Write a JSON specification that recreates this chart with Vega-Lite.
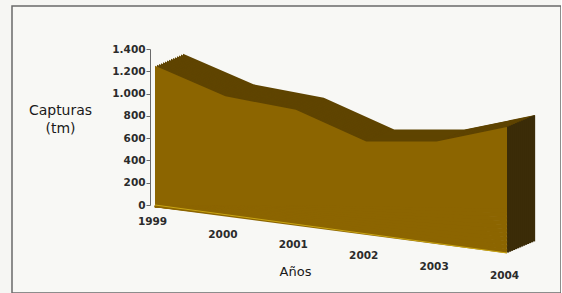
{
  "$schema": "https://vega.github.io/schema/vega-lite/v6.json",
  "width": 549,
  "height": 287,
  "padding": {"left": 12, "top": 6, "right": 0, "bottom": 0},
  "background": "#f6f6f3",
  "config": {
    "locale": {"number": {"decimal": ",", "thousands": ".", "grouping": [3], "currency": ["", " €"]}},
    "view": {"stroke": "#6a6a6a", "strokeWidth": 1.5, "fill": "#f8f8f5"},
    "font": "DejaVu Sans"
  },
  "data": {
    "values": [
      {"year": 1999, "capturas": 1250},
      {"year": 2000, "capturas": 975},
      {"year": 2001, "capturas": 855},
      {"year": 2002, "capturas": 570},
      {"year": 2003, "capturas": 570},
      {"year": 2004, "capturas": 700}
    ]
  },
  "encoding": {
    "x": {
      "field": "year",
      "type": "quantitative",
      "scale": {"domain": [1999, 2004], "range": [143, 495], "nice": false, "zero": false},
      "axis": {
        "orient": "bottom",
        "offset": -88,
        "values": [1999, 2000, 2001, 2002, 2003, 2004],
        "format": "d",
        "domain": false,
        "ticks": false,
        "grid": false,
        "labelOverlap": false,
        "labelFlush": false,
        "labelPadding": {
          "condition": [
            {"test": "datum.value == 1999", "value": 11},
            {"test": "datum.value == 2000", "value": 24},
            {"test": "datum.value == 2001", "value": 34},
            {"test": "datum.value == 2002", "value": 45},
            {"test": "datum.value == 2003", "value": 56}
          ],
          "value": 65
        },
        "labelOffset": -3,
        "labelFontSize": 10.5,
        "labelFontWeight": "bold",
        "labelColor": "#2b2b2b",
        "labelBaseline": "top",
        "title": "Años",
        "titleX": 283,
        "titleY": 66,
        "titleAlign": "center",
        "titleBaseline": "middle",
        "titleFontSize": 13,
        "titleFontWeight": "normal",
        "titleColor": "#1a1a1a"
      }
    },
    "y": {
      "field": "capturas",
      "type": "quantitative",
      "scale": {"domain": [0, 1400], "range": [199, 43], "nice": false, "zero": true},
      "axis": {
        "orient": "left",
        "offset": -138,
        "values": [0, 200, 400, 600, 800, 1000, 1200, 1400],
        "format": ",.0f",
        "grid": false,
        "domainColor": "#6a6a6a",
        "tickColor": "#6a6a6a",
        "tickSize": 4,
        "labelFontSize": 10.5,
        "labelFontWeight": "bold",
        "labelColor": "#2b2b2b",
        "labelPadding": 1,
        "title": ["Capturas", "(tm)"],
        "titleAngle": 0,
        "titleX": -90,
        "titleY": 97,
        "titleAlign": "center",
        "titleBaseline": "top",
        "titleFontSize": 14,
        "titleFontWeight": "normal",
        "titleColor": "#1a1a1a",
        "titleLineHeight": 18
      }
    }
  },
  "layer": [
    {"mark": {"type": "area", "color": "#5f4400", "xOffset": 28, "yOffset": -12, "y2Offset": -12}},
    {"mark": {"type": "area", "color": "#5f4400", "xOffset": 26, "yOffset": -11.14, "y2Offset": -11.14}},
    {"mark": {"type": "area", "color": "#5f4400", "xOffset": 24, "yOffset": -10.29, "y2Offset": -10.29}},
    {"mark": {"type": "area", "color": "#5f4400", "xOffset": 22, "yOffset": -9.43, "y2Offset": -9.43}},
    {"mark": {"type": "area", "color": "#5f4400", "xOffset": 20, "yOffset": -8.57, "y2Offset": -8.57}},
    {"mark": {"type": "area", "color": "#5f4400", "xOffset": 18, "yOffset": -7.71, "y2Offset": -7.71}},
    {"mark": {"type": "area", "color": "#5f4400", "xOffset": 16, "yOffset": -6.86, "y2Offset": -6.86}},
    {"mark": {"type": "area", "color": "#5f4400", "xOffset": 14, "yOffset": -6, "y2Offset": -6}},
    {"mark": {"type": "area", "color": "#5f4400", "xOffset": 12, "yOffset": -5.14, "y2Offset": -5.14}},
    {"mark": {"type": "area", "color": "#5f4400", "xOffset": 10, "yOffset": -4.29, "y2Offset": -4.29}},
    {"mark": {"type": "area", "color": "#5f4400", "xOffset": 8, "yOffset": -3.43, "y2Offset": -3.43}},
    {"mark": {"type": "area", "color": "#5f4400", "xOffset": 6, "yOffset": -2.57, "y2Offset": -2.57}},
    {"mark": {"type": "area", "color": "#5f4400", "xOffset": 4, "yOffset": -1.71, "y2Offset": -1.71}},
    {"mark": {"type": "area", "color": "#5f4400", "xOffset": 2, "yOffset": -0.86, "y2Offset": -0.86}},

    {"transform": [{"filter": "datum.year == 2004"}], "mark": {"type": "rule", "color": "#3b2c08", "strokeWidth": 2.3, "xOffset": 1, "yOffset": -0.43, "y2Offset": 47.57}, "encoding": {"y2": {"datum": 0}}},
    {"transform": [{"filter": "datum.year == 2004"}], "mark": {"type": "rule", "color": "#3b2c08", "strokeWidth": 2.3, "xOffset": 3, "yOffset": -1.29, "y2Offset": 46.71}, "encoding": {"y2": {"datum": 0}}},
    {"transform": [{"filter": "datum.year == 2004"}], "mark": {"type": "rule", "color": "#3b2c08", "strokeWidth": 2.3, "xOffset": 5, "yOffset": -2.14, "y2Offset": 45.86}, "encoding": {"y2": {"datum": 0}}},
    {"transform": [{"filter": "datum.year == 2004"}], "mark": {"type": "rule", "color": "#3b2c08", "strokeWidth": 2.3, "xOffset": 7, "yOffset": -3, "y2Offset": 45}, "encoding": {"y2": {"datum": 0}}},
    {"transform": [{"filter": "datum.year == 2004"}], "mark": {"type": "rule", "color": "#3b2c08", "strokeWidth": 2.3, "xOffset": 9, "yOffset": -3.86, "y2Offset": 44.14}, "encoding": {"y2": {"datum": 0}}},
    {"transform": [{"filter": "datum.year == 2004"}], "mark": {"type": "rule", "color": "#3b2c08", "strokeWidth": 2.3, "xOffset": 11, "yOffset": -4.71, "y2Offset": 43.29}, "encoding": {"y2": {"datum": 0}}},
    {"transform": [{"filter": "datum.year == 2004"}], "mark": {"type": "rule", "color": "#3b2c08", "strokeWidth": 2.3, "xOffset": 13, "yOffset": -5.57, "y2Offset": 42.43}, "encoding": {"y2": {"datum": 0}}},
    {"transform": [{"filter": "datum.year == 2004"}], "mark": {"type": "rule", "color": "#3b2c08", "strokeWidth": 2.3, "xOffset": 15, "yOffset": -6.43, "y2Offset": 41.57}, "encoding": {"y2": {"datum": 0}}},
    {"transform": [{"filter": "datum.year == 2004"}], "mark": {"type": "rule", "color": "#3b2c08", "strokeWidth": 2.3, "xOffset": 17, "yOffset": -7.29, "y2Offset": 40.71}, "encoding": {"y2": {"datum": 0}}},
    {"transform": [{"filter": "datum.year == 2004"}], "mark": {"type": "rule", "color": "#3b2c08", "strokeWidth": 2.3, "xOffset": 19, "yOffset": -8.14, "y2Offset": 39.86}, "encoding": {"y2": {"datum": 0}}},
    {"transform": [{"filter": "datum.year == 2004"}], "mark": {"type": "rule", "color": "#3b2c08", "strokeWidth": 2.3, "xOffset": 21, "yOffset": -9, "y2Offset": 39}, "encoding": {"y2": {"datum": 0}}},
    {"transform": [{"filter": "datum.year == 2004"}], "mark": {"type": "rule", "color": "#3b2c08", "strokeWidth": 2.3, "xOffset": 23, "yOffset": -9.86, "y2Offset": 38.14}, "encoding": {"y2": {"datum": 0}}},
    {"transform": [{"filter": "datum.year == 2004"}], "mark": {"type": "rule", "color": "#3b2c08", "strokeWidth": 2.3, "xOffset": 25, "yOffset": -10.71, "y2Offset": 37.29}, "encoding": {"y2": {"datum": 0}}},
    {"transform": [{"filter": "datum.year == 2004"}], "mark": {"type": "rule", "color": "#3b2c08", "strokeWidth": 2.3, "xOffset": 27, "yOffset": -11.57, "y2Offset": 36.43}, "encoding": {"y2": {"datum": 0}}},

    {"transform": [{"filter": "datum.year == 1999"}], "mark": {"type": "rule", "color": "#8c6500", "strokeWidth": 4.5, "y2Offset": 2}, "encoding": {"y": {"datum": 0}, "x2": {"datum": 2004}, "y2": {"datum": 0}}},
    {"transform": [{"filter": "datum.year == 1999"}], "mark": {"type": "rule", "color": "#8c6500", "strokeWidth": 4.5, "y2Offset": 6}, "encoding": {"y": {"datum": 0}, "x2": {"datum": 2004}, "y2": {"datum": 0}}},
    {"transform": [{"filter": "datum.year == 1999"}], "mark": {"type": "rule", "color": "#8c6500", "strokeWidth": 4.5, "y2Offset": 10}, "encoding": {"y": {"datum": 0}, "x2": {"datum": 2004}, "y2": {"datum": 0}}},
    {"transform": [{"filter": "datum.year == 1999"}], "mark": {"type": "rule", "color": "#8c6500", "strokeWidth": 4.5, "y2Offset": 14}, "encoding": {"y": {"datum": 0}, "x2": {"datum": 2004}, "y2": {"datum": 0}}},
    {"transform": [{"filter": "datum.year == 1999"}], "mark": {"type": "rule", "color": "#8c6500", "strokeWidth": 4.5, "y2Offset": 18}, "encoding": {"y": {"datum": 0}, "x2": {"datum": 2004}, "y2": {"datum": 0}}},
    {"transform": [{"filter": "datum.year == 1999"}], "mark": {"type": "rule", "color": "#8c6500", "strokeWidth": 4.5, "y2Offset": 22}, "encoding": {"y": {"datum": 0}, "x2": {"datum": 2004}, "y2": {"datum": 0}}},
    {"transform": [{"filter": "datum.year == 1999"}], "mark": {"type": "rule", "color": "#8c6500", "strokeWidth": 4.5, "y2Offset": 26}, "encoding": {"y": {"datum": 0}, "x2": {"datum": 2004}, "y2": {"datum": 0}}},
    {"transform": [{"filter": "datum.year == 1999"}], "mark": {"type": "rule", "color": "#8c6500", "strokeWidth": 4.5, "y2Offset": 30}, "encoding": {"y": {"datum": 0}, "x2": {"datum": 2004}, "y2": {"datum": 0}}},
    {"transform": [{"filter": "datum.year == 1999"}], "mark": {"type": "rule", "color": "#8c6500", "strokeWidth": 4.5, "y2Offset": 34}, "encoding": {"y": {"datum": 0}, "x2": {"datum": 2004}, "y2": {"datum": 0}}},
    {"transform": [{"filter": "datum.year == 1999"}], "mark": {"type": "rule", "color": "#8c6500", "strokeWidth": 4.5, "y2Offset": 38}, "encoding": {"y": {"datum": 0}, "x2": {"datum": 2004}, "y2": {"datum": 0}}},
    {"transform": [{"filter": "datum.year == 1999"}], "mark": {"type": "rule", "color": "#8c6500", "strokeWidth": 4.5, "y2Offset": 42}, "encoding": {"y": {"datum": 0}, "x2": {"datum": 2004}, "y2": {"datum": 0}}},
    {"transform": [{"filter": "datum.year == 1999"}], "mark": {"type": "rule", "color": "#8c6500", "strokeWidth": 4.5, "y2Offset": 46}, "encoding": {"y": {"datum": 0}, "x2": {"datum": 2004}, "y2": {"datum": 0}}},

    {"mark": {"type": "area", "color": "#8c6500"}},

    {"transform": [{"filter": "datum.year == 1999"}], "mark": {"type": "rule", "color": "#c9a514", "strokeWidth": 1, "y2Offset": 48}, "encoding": {"y": {"datum": 0}, "x2": {"datum": 2004}, "y2": {"datum": 0}}}
  ]
}
